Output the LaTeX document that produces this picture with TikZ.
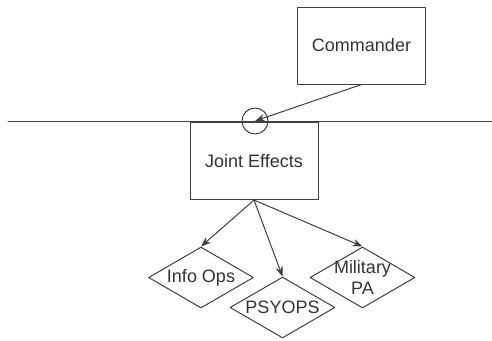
\documentclass[tikz,border=0pt]{standalone}
\usepackage{fontspec}
\setmainfont{Liberation Sans}
\usetikzlibrary{shapes.geometric,arrows.meta}
\begin{document}
\begin{tikzpicture}[x=1pt,y=-1pt,line cap=round,line join=round,line width=1pt,
		>={Stealth[length=10pt,width=7.5pt]},draw=black!75,
		every node/.style={font=\fontsize{18}{21}\selectfont,text=black!80},
		unit/.style={draw=black!75,rectangle,minimum width=128pt,minimum height=77pt},
		ops/.style={draw=black!75,diamond,minimum width=105pt,minimum height=61pt,inner sep=0pt}]
	\useasboundingbox (0,0) rectangle (492,340);
	\path (8,121)coordinate(lft) (492,121)coordinate(rgt);
	\draw (lft)--(rgt);
	\node[unit] (cmd) at (361.5,45.5) {Commander};
	\node[unit] (je) at (254,161) {Joint Effects};
	\node[draw=black!75,circle,minimum size=26pt,inner sep=0pt] (gate) at (255,121) {};
	\node[ops,label=center:Info Ops] (info) at (201,277.5) {};
	\node[ops,label=center:PSYOPS] (psy) at (282.5,307.5) {};
	\node[ops,label={[align=center]center:Military\\PA}] (mpa) at (362.5,277.5) {};
	\draw[->] (cmd.south)--(gate.center);
	\draw[->] (je.south)--(info.north);
	\draw[->] (je.south)--(psy.north);
	\draw[->] (je.south)--(mpa.north);
\end{tikzpicture}
\end{document}
